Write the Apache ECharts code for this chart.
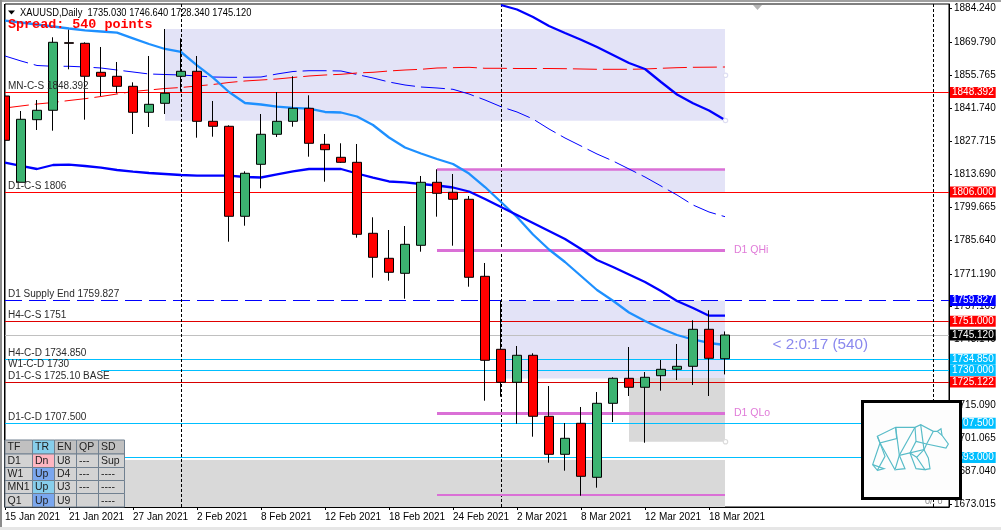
<!DOCTYPE html>
<html><head><meta charset="utf-8">
<style>html,body{margin:0;padding:0;background:#fff;overflow:hidden}#c{width:1001px;height:530px}</style>
<script src="https://cdn.jsdelivr.net/npm/echarts@6/dist/echarts.min.js"></script>
</head><body><div id="c"></div>
<script>
const categories=['15 Jan 2021','18 Jan 2021','19 Jan 2021','20 Jan 2021','21 Jan 2021','22 Jan 2021','25 Jan 2021','26 Jan 2021','27 Jan 2021','28 Jan 2021','29 Jan 2021','1 Feb 2021','2 Feb 2021','3 Feb 2021','4 Feb 2021','5 Feb 2021','8 Feb 2021','9 Feb 2021','10 Feb 2021','11 Feb 2021','12 Feb 2021','15 Feb 2021','16 Feb 2021','17 Feb 2021','18 Feb 2021','19 Feb 2021','22 Feb 2021','23 Feb 2021','24 Feb 2021','25 Feb 2021','26 Feb 2021','1 Mar 2021','2 Mar 2021','3 Mar 2021','4 Mar 2021','5 Mar 2021','8 Mar 2021','9 Mar 2021','10 Mar 2021','11 Mar 2021','12 Mar 2021','15 Mar 2021','16 Mar 2021','17 Mar 2021','18 Mar 2021','19 Mar 2021','22 Mar 2021','23 Mar 2021','24 Mar 2021','25 Mar 2021','26 Mar 2021','29 Mar 2021','30 Mar 2021','31 Mar 2021','1 Apr 2021','2 Apr 2021','5 Apr 2021','6 Apr 2021','7 Apr 2021','8 Apr 2021'];
const shownDates=['15 Jan 2021','21 Jan 2021','27 Jan 2021','2 Feb 2021','8 Feb 2021','12 Feb 2021','18 Feb 2021','24 Feb 2021','2 Mar 2021','8 Mar 2021','12 Mar 2021','18 Mar 2021'];
const separators=['1 Feb 2021','1 Mar 2021','7 Apr 2021'];
// open, close, low, high
const ohlc=[
[1846.92,1828.05,1823.20,1856.84],[1810.17,1837.00,1810.17,1840.53],[1836.83,1840.83,1832.44,1845.22],[1840.83,1869.79,1832.14,1871.92],
[1869.62,1869.36,1858.29,1875.16],[1869.36,1855.31,1836.83,1869.79],[1857.01,1855.31,1846.92,1867.79],[1855.31,1851.05,1848.07,1861.40],
[1851.05,1839.98,1830.74,1852.75],[1839.98,1843.38,1833.72,1863.96],[1843.81,1848.07,1839.25,1875.45],[1855.31,1857.44,1848.75,1871.49],
[1857.44,1836.14,1829.16,1863.96],[1836.14,1834.02,1829.59,1844.79],[1834.02,1795.69,1784.87,1834.44],[1795.69,1814.00,1791.68,1814.85],
[1817.83,1830.61,1807.61,1839.25],[1830.61,1836.14,1829.46,1848.62],[1836.14,1841.68,1833.84,1855.31],[1841.68,1826.78,1821.07,1847.22],
[1826.35,1824.05,1810.42,1830.74],[1820.81,1818.68,1818.39,1826.78],[1818.68,1788.02,1786.57,1826.48],[1788.45,1778.22,1769.54,1795.26],
[1777.80,1771.84,1768.26,1789.85],[1771.41,1783.76,1760.59,1791.55],[1783.33,1810.17,1780.61,1812.85],[1810.17,1805.48,1795.52,1815.70],
[1805.91,1802.93,1783.16,1813.70],[1802.93,1769.71,1765.70,1804.33],[1770.13,1734.36,1717.15,1775.80],[1739.04,1724.99,1718.85,1759.74],
[1724.99,1736.49,1707.36,1740.45],[1736.49,1710.51,1701.82,1737.34],[1710.51,1694.32,1690.75,1723.41],[1694.32,1701.14,1687.34,1707.65],
[1707.53,1684.95,1676.69,1714.47],[1684.53,1716.04,1680.10,1720.86],[1716.04,1726.69,1708.08,1727.12],[1726.69,1722.86,1719.15,1740.02],
[1722.86,1727.12,1699.26,1729.37],[1727.80,1730.52,1721.41,1734.49],[1730.52,1731.80,1725.97,1741.30],[1731.80,1747.56,1723.84,1751.39],
[1747.56,1735.21,1719.15,1755.65],[1735.03,1745.12,1728.34,1746.64]];
const fastMA=[1878.99,1878.22,1877.37,1876.52,1875.67,1874.90,1874.39,1873.88,1871.49,1869.07,1866.94,1865.66,1859.99,1854.71,1848.62,1843.94,1843.30,1842.36,1841.89,1841.51,1840.11,1839.89,1838.19,1834.57,1829.25,1824.99,1822.43,1820.09,1817.96,1813.91,1808.16,1801.78,1795.39,1787.93,1781.55,1776.22,1770.26,1764.30,1759.74,1754.72,1751.09,1747.90,1745.13,1743.22,1741.73,1740.87];
const slowMA=[1818.51,1817.11,1815.83,1817.53,1817.66,1817.11,1816.38,1815.40,1814.68,1814.13,1813.70,1813.27,1812.98,1812.98,1812.98,1812.42,1812.21,1813.49,1814.77,1815.83,1815.83,1815.83,1813.91,1812.12,1810.51,1810.17,1809.44,1808.80,1807.95,1806.25,1803.05,1799.65,1796.24,1792.83,1789.42,1786.02,1781.76,1777.07,1774.09,1770.90,1767.70,1763.87,1759.61,1756.63,1753.35,1753.35];
const upperMA=[null,null,null,null,null,null,null,null,null,null,null,null,null,null,null,null,null,null,null,null,null,null,null,null,null,null,null,null,null,null,null,1885.68,1883.76,1880.56,1876.73,1873.75,1870.90,1867.79,1864.38,1860.97,1858.42,1852.88,1847.56,1843.81,1840.74,1836.70];
const thinBlue=[1863.96,1861.83,1859.91,1859.57,1859.57,1859.27,1858.84,1857.99,1857.14,1856.29,1856.08,1855.86,1855.44,1855.01,1854.88,1854.88,1855.01,1856.29,1857.35,1857.69,1857.69,1857.57,1856.08,1854.59,1852.88,1851.60,1850.75,1850.33,1849.77,1847.77,1845.22,1842.36,1840.11,1837.12,1832.87,1829.03,1825.63,1822.22,1819.24,1815.83,1812.42,1808.59,1804.76,1800.50,1797.52,1795.52];
const thinRed=[1841.81,1842.66,1843.51,1844.15,1845.00,1845.77,1846.71,1847.77,1848.84,1849.47,1850.11,1850.54,1851.18,1851.82,1852.67,1853.31,1853.73,1854.16,1854.80,1855.44,1855.86,1856.16,1856.72,1857.01,1857.57,1857.99,1858.29,1858.84,1858.97,1859.14,1858.72,1858.72,1858.63,1858.63,1858.63,1858.55,1858.42,1858.29,1858.29,1858.29,1858.42,1858.72,1858.97,1859.14,1859.19,1859.27];
const yTicks=[1884.24,1869.79,1855.765,1841.74,1827.715,1813.69,1799.665,1785.64,1771.19,1757.165,1743.14,1729.115,1715.09,1701.065,1687.04,1673.015];
const levelValues=[1848.392,1806,1759.827,1751,1745.12,1734.85,1730,1725.122,1707.5,1693];
const levelNames=['MN-C-S 1848.392','D1-C-S 1806','D1 Supply End 1759.827','H4-C-S 1751','','H4-C-D 1734.850','W1-C-D 1730','D1-C-S 1725.10 BASE','D1-C-D 1707.500',''];
const levelColors=['#ff0000','#ff0000','#0000ff','#e00000','#c0c0c0','#00bfff','#00bfff','#d80000','#00bfff','#00bfff'];
const tagColors=['#ff0000','#ff0000','#0000ff','#ff0000','#000000','#00bfff','#00bfff','#ff0000','#00bfff','#00bfff'];
const zoneRanges=[
 ['29 Jan 2021','19 Mar 2021',1875.45,1836.40,'#e3e3f7'],
 ['23 Feb 2021','19 Mar 2021',1815.70,1806,'#e3e3f7'],
 ['1 Mar 2021','19 Mar 2021',1759.827,1726.6,'#e3e3f7'],
 ['11 Mar 2021','19 Mar 2021',1726.82,1699.69,'#d9d9d9'],
 ['15 Jan 2021','19 Mar 2021',1691.90,1671.88,'#d9d9d9']];
const orchidLevels=[1815.7,1781.2,1711.79,1676.99];
const orchidWidths=[2.5,3,3,2];
const orchidNames=['','D1 QHi','D1 QLo',''];
const tableRows=[['TF','TR','EN','QP','SD'],['D1','Dn','U8','---','Sup'],['W1','Up','D4','---','----'],['MN1','Up','U3','---','----'],['Q1','Up','U9','','----']];
const trColors=['#87ceeb','#ffb6c1','#7ba7ee','#87ceeb','#7ba7ee'];

const FONT='"Liberation Sans",sans-serif';
const FS=10;
const blank=k=>({name:k,type:'line',data:[],silent:true});

const graphics=[];
const add=o=>{o.z=o.z||100;o.silent=true;graphics.push(o);};
add({type:'rect',shape:{x:2,y:2,width:2,height:525},style:{fill:'#fff'}});
add({type:'rect',shape:{x:4,y:4,width:1,height:503},style:{fill:'#000'}});
add({type:'rect',shape:{x:0,y:0,width:1001,height:2},style:{fill:'#a0a0a0'}});
add({type:'rect',shape:{x:0,y:0,width:2,height:530},style:{fill:'#8c8c8c'}});
add({type:'rect',shape:{x:0,y:527,width:1001,height:3},style:{fill:'#e6e6e6'}});
add({type:'polygon',shape:{points:[[8,10.5],[15,10.5],[11.5,14.5]]},style:{fill:'#000'}});
add({type:'polygon',shape:{points:[[753,5],[762,5],[757.5,10]]},style:{fill:'#b4b4b4'}});
add({type:'text',x:20,y:12.5,scaleX:.85,style:{text:'XAUUSD,Daily  1735.030 1746.640 1728.340 1745.120',fill:'#000',font:'11px '+FONT,textVerticalAlign:'middle'}});
add({type:'text',x:8,y:24.5,style:{text:'Spread: 540 points',fill:'#ff0000',font:'bold 13.4px "Liberation Mono",monospace',textVerticalAlign:'middle'}});
add({type:'text',x:772.5,y:345,style:{text:'< 2:0:17 (540)',fill:'#8a88ee',font:'15.3px "Liberation Sans",sans-serif',textVerticalAlign:'middle'}});
[[725.5,75.3,'#dedef2'],[725.5,120.5,'#dedef2'],[725.5,441.7,'#dcdcdc']].forEach(r=>add({type:'circle',shape:{cx:r[0],cy:r[1],r:2.2},style:{fill:'#fff',stroke:r[2],lineWidth:1.2},z:50}));
// status table
const colX=[5,32.5,54.5,76.5,98.5,124.5],rowY=[440,454,467.5,480.5,493.5,507];
tableRows.forEach((row,r)=>row.forEach((t,c)=>{
  const fill=c===1?trColors[r]:(r===0?'#c0c0c0':'#d3d3d3');
  add({type:'rect',shape:{x:colX[c],y:rowY[r],width:colX[c+1]-colX[c],height:rowY[r+1]-rowY[r]},style:{fill:fill,stroke:'#708090',lineWidth:1},z:101});
  add({type:'text',x:colX[c]+2.5,y:(rowY[r]+rowY[r+1])/2+.5,style:{text:t,fill:'#222',font:'10.5px '+FONT,textVerticalAlign:'middle'},z:102});
}));
// logo
add({type:'text',x:925,y:501.5,style:{text:'0/. 0',fill:'#888',font:'9px '+FONT,textVerticalAlign:'middle'},z:99});
add({type:'rect',shape:{x:862.5,y:401.5,width:98,height:97},style:{fill:'#fdfdfd',stroke:'#000',lineWidth:3},z:110});
const bear=[
[[60,135],[52,115],[107,88],[165,88],[182,80],[220,100],[232,100],[243,92],[246,112],[265,138],[258,150],[200,138],[168,130]],
[[52,115],[60,135],[38,200],[52,217],[75,175],[60,135],[110,122],[107,88]],
[[60,135],[105,215],[118,172],[165,88]],[[107,88],[118,172],[135,212],[108,215]],[[38,200],[72,212],[52,217]],
[[118,172],[192,155],[182,80]],[[165,88],[168,130],[150,165],[168,212],[195,215],[170,178],[192,155],[205,180],[210,212],[195,215]],
[[220,100],[200,138],[192,155]],[[150,165],[170,178]],[[232,100],[246,112]]];
add({type:'group',x:860,y:398,scaleX:1/3,scaleY:1/3,z:111,children:bear.map(p=>({type:'polyline',z:111,shape:{points:p},style:{fill:null,stroke:'#58bcc8',lineWidth:3.5}}))});

const option={
 animation:false,backgroundColor:'#fff',
 grid:{left:5,top:4,width:944,height:503,show:true,backgroundColor:'#fff',borderColor:'#000',borderWidth:1},
 xAxis:{type:'category',data:categories,boundaryGap:false,
  axisLine:{lineStyle:{color:'#000'}},
  axisTick:{length:3,lineStyle:{color:'#000'},interval:(i,v)=>shownDates.includes(v)},
  axisLabel:{interval:(i,v)=>shownDates.includes(v),align:'left',margin:5,color:'#000',fontSize:FS,fontFamily:FONT,hideOverlap:false},
  splitLine:{show:false}},
 yAxis:{type:'value',position:'right',min:1671.88,max:1886.1,scale:true,
  axisLine:{show:true,lineStyle:{color:'#000'}},
  axisTick:{show:true,length:3,lineStyle:{color:'#000'},customValues:yTicks},
  axisLabel:{margin:5,color:'#000',fontSize:FS,fontFamily:FONT,customValues:yTicks,formatter:v=>v.toFixed(3),showMinLabel:true,showMaxLabel:true},
  splitLine:{show:false}},
 graphic:graphics,
 series:[
  {...blank('zones'),z:1,markArea:{silent:true,z:1,label:{show:false},data:zoneRanges.map(z=>[{xAxis:z[0],yAxis:z[2],itemStyle:{color:z[4],opacity:1}},{xAxis:z[1],yAxis:z[3]}])}},
  {...blank('levels'),z:3,markLine:{silent:true,z:3,symbol:'none',animation:false,label:{show:false},data:levelValues.map((v,i)=>{
     const ls={color:levelColors[i],width:1,type:i===2?[17,7]:'solid'};
     return i===6?[{xAxis:categories[6],yAxis:v,lineStyle:ls},{xAxis:categories[59],yAxis:v}]:{yAxis:v,lineStyle:ls};})}},
  {...blank('separators'),z:3,markLine:{silent:true,z:3,symbol:'none',animation:false,label:{show:false},data:separators.map(s=>({xAxis:s,lineStyle:{color:'#000',width:1,type:[3,2]}}))}},
  {...blank('orchid'),z:4,markLine:{silent:true,z:4,symbol:'none',animation:false,data:orchidLevels.map((v,i)=>[
     {xAxis:'23 Feb 2021',yAxis:v,name:orchidNames[i],lineStyle:{color:'#da70d6',width:orchidWidths[i],type:'solid'},
      label:{show:!!orchidNames[i],position:'end',distance:9,formatter:'{b}',color:'#e07ad8',fontSize:10.5,fontFamily:FONT}},
     {xAxis:'19 Mar 2021',yAxis:v}])}},
  {name:'thinBlue',type:'line',data:thinBlue,z:5,symbol:'none',silent:true,lineStyle:{color:'#0000ff',width:1,type:[24,6]}},
  {name:'thinRed',type:'line',data:thinRed,z:5,symbol:'none',silent:true,lineStyle:{color:'#ff0000',width:1,type:[24,6]}},
  {name:'fastMA',type:'line',data:fastMA,z:6,symbol:'none',silent:true,lineStyle:{color:'#1e90ff',width:2.3}},
  {name:'slowMA',type:'line',data:slowMA,z:6,symbol:'none',silent:true,lineStyle:{color:'#0000ff',width:2.3}},
  {name:'upperMA',type:'line',data:upperMA,z:6,symbol:'none',silent:true,lineStyle:{color:'#0000ff',width:2.3}},
  {name:'XAUUSD',type:'candlestick',data:ohlc,z:8,barWidth:10,silent:true,
   itemStyle:{color:'#3cb371',color0:'#ff0000',borderColor:'#000',borderColor0:'#000',borderWidth:1}},
  {...blank('left labels'),z:9,markLine:{silent:true,z:9,symbol:'none',animation:false,data:levelValues.map((v,i)=>({yAxis:v,name:levelNames[i],lineStyle:{color:'transparent'},
     label:{show:!!levelNames[i],position:'insideStartTop',distance:1,padding:[0,0,0,2],formatter:'{b}',color:'#2b2b2b',fontSize:FS,fontFamily:FONT}}))}},
  {...blank('right tags'),z:20,markLine:{silent:true,z:20,symbol:'none',animation:false,data:levelValues.map((v,i)=>({yAxis:v,lineStyle:{color:'transparent'},
     label:{show:true,position:'end',distance:1,formatter:v.toFixed(3),color:'#fff',fontSize:FS,fontFamily:FONT,backgroundColor:tagColors[i],padding:[0,2,0,2],lineHeight:11,height:11}}))}}
 ]
};
const chart=echarts.init(document.getElementById('c'),null,{renderer:'canvas',width:1001,height:530});
chart.setOption(option);
</script></body></html>
